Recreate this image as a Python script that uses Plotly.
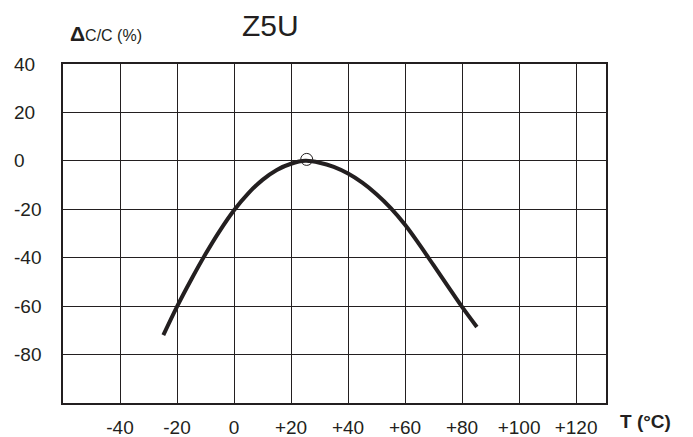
import plotly.graph_objects as go

# Curve data (temperature °C, ΔC/C %)
temp = [-24.8, -20, -15, -10, -5, 0, 5, 10, 15, 20, 25,
        30, 35, 40, 45, 50, 55, 60, 65, 70, 75, 80, 85.2]
dcc = [-72.0, -60.2, -49.0, -38.5, -28.9, -20.4, -13.4, -7.85, -3.75, -1.2, 0,
       -0.75, -2.5, -5.25, -9.0, -13.75, -19.5, -26.4, -34.5, -43.1, -51.7, -60.3, -68.6]

ref_temp = [25.5]
ref_dcc = [0.6]

x_ticks = [-40, -20, 0, 20, 40, 60, 80, 100, 120]
x_tick_labels = ["-40", "-20", "0", "+20", "+40", "+60", "+80", "+100", "+120"]
y_ticks = [40, 20, 0, -20, -40, -60, -80]
y_tick_labels = ["40", "20", "0", "-20", "-40", "-60", "-80"]

INK = "#231f20"
FONT = "Liberation Sans, Arial, sans-serif"

fig = go.Figure()
fig.add_trace(go.Scatter(
    x=temp, y=dcc, mode="lines",
    line=dict(color=INK, width=4, shape="spline", smoothing=1.0),
    hoverinfo="skip", showlegend=False,
))
fig.add_trace(go.Scatter(
    x=ref_temp, y=ref_dcc, mode="markers",
    marker=dict(symbol="circle-open", size=12, color=INK, line=dict(width=1, color=INK)),
    hoverinfo="skip", showlegend=False,
))

annotations = []
for v, t in zip(y_ticks, y_tick_labels):
    annotations.append(dict(
        x=-0.094, xref="paper", y=v, yref="y", text=t, showarrow=False,
        xanchor="left", yanchor="middle", font=dict(family=FONT, size=19, color=INK),
    ))
annotations.append(dict(
    x=1.022, xref="paper", y=-0.056, yref="paper", text="<b>T (°C)</b>", showarrow=False,
    xanchor="left", yanchor="middle", font=dict(family=FONT, size=19, color=INK),
))
annotations.append(dict(
    x=0.383, xref="paper", y=1.115, yref="paper", text="Z5U", showarrow=False,
    xanchor="center", yanchor="middle", font=dict(family=FONT, size=30, color=INK),
))
annotations.append(dict(
    x=0.009, xref="paper", y=1.091, yref="paper",
    text="<b><span style='font-size:21px'>Δ</span></b>C/C (%)", showarrow=False,
    xanchor="left", yanchor="middle", font=dict(family=FONT, size=16, color=INK),
))

fig.update_layout(
    width=685, height=429,
    margin=dict(l=55, r=87, t=56, b=34, autoexpand=False),
    paper_bgcolor="white", plot_bgcolor="white",
    annotations=annotations,
    xaxis=dict(
        range=[-60, 130.5], tickvals=x_ticks, ticktext=x_tick_labels,
        showgrid=True, gridcolor=INK, gridwidth=1.3, zeroline=False,
        showline=True, linecolor=INK, linewidth=1.5, mirror=True,
        ticks="", ticklabelstandoff=6, automargin=False,
        tickfont=dict(family=FONT, size=19, color=INK),
    ),
    yaxis=dict(
        range=[-100, 40], tickvals=[20, 0, -20, -40, -60, -80],
        showgrid=True, gridcolor=INK, gridwidth=1.3, zeroline=False,
        showline=True, linecolor=INK, linewidth=1.5, mirror=True,
        showticklabels=False, ticks="", automargin=False,
    ),
)

fig.write_html("out.html")
